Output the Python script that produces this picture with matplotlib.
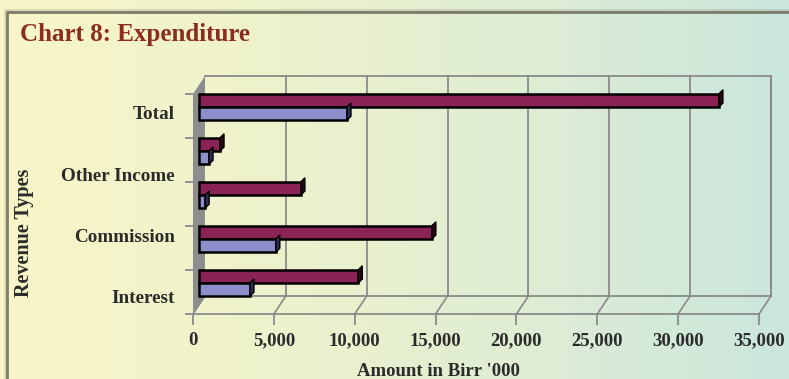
import numpy as np
import matplotlib
matplotlib.use("Agg")
import matplotlib.pyplot as plt
from matplotlib.patches import Polygon
from matplotlib.transforms import ScaledTranslation
from matplotlib.colors import LinearSegmentedColormap

# ---- data -------------------------------------------------------------
type_labels = ["Interest", "Commission", "Other Income", "Total"]
series_a = [9850, 14400, 6300, 1300, 32150]   # maroon bars, bottom to top
series_b = [3150, 4750, 380, 620, 9150]       # lavender bars, bottom to top
x_ticks = [0, 5000, 10000, 15000, 20000, 25000, 30000, 35000]

title = "Chart 8: Expenditure"
x_title = "Amount in Birr '000"
y_title = "Revenue Types"

# ---- styling ----------------------------------------------------------
W, H, DPI = 789, 379, 100
SERIF = ["Liberation Serif", "DejaVu Serif"]
col_a, cap_a = "#8c2356", "#2a0614"
col_b, cap_b = "#8e8dcc", "#2c2c55"
grid_col = "#8a8a8a"
text_col = "#2b2b2b"

fig = plt.figure(figsize=(W / DPI, H / DPI), dpi=DPI)

# background gradient
bg = fig.add_axes([0, 0, 1, 1], zorder=-10)
cmap = LinearSegmentedColormap.from_list(
    "bg", ["#f8f6c7", "#eef2cc", "#dfedd4", "#cae6dd"])
bg.imshow(np.linspace(0, 1, 256)[None, :], aspect="auto", cmap=cmap,
          extent=[0, 1, 0, 1])
bg.set_xlim(0, 1)
bg.set_ylim(0, 1)
bg.axis("off")

# frame with a soft shadow
def px(x, y):
    return x / W, 1 - y / H

for off, a in [(3, 0.10), (2, 0.18), (1, 0.3)]:
    bg.plot(*zip(px(7 - off, H), px(7 - off, 12 - off), px(W, 12 - off)),
            color="#6d6d5a", lw=1, alpha=a, solid_capstyle="butt")
bg.plot(*zip(px(7, H), px(7, 12), px(W, 12)), color="#7c7c6c", lw=2)

fig.text(20 / W, 1 - 34 / H, title, fontsize=18, fontweight="bold",
         color="#8b2c1e", family=SERIF, va="center", ha="left")

# plot area: front plane of the pseudo-3D chart
left_px, right_px, top_px, bot_px = 193, 759, 94, 314
ax = fig.add_axes([left_px / W, 1 - bot_px / H,
                   (right_px - left_px) / W, (bot_px - top_px) / H])
ax.set_facecolor("none")
n_bands = len(series_a)
xmax = x_ticks[-1]
ax.set_xlim(0, xmax)
ax.set_ylim(0, n_bands)
for s in ax.spines.values():
    s.set_visible(False)

depth_x, depth_y = 12, 18  # px offset of the back wall
back = ax.transData + ScaledTranslation(depth_x / DPI, depth_y / DPI,
                                        fig.dpi_scale_trans)
mid = ax.transData + ScaledTranslation(depth_x / 2 / DPI, depth_y / 2 / DPI,
                                       fig.dpi_scale_trans)
ux = xmax / (right_px - left_px)      # data units per px (x)
uy = n_bands / (bot_px - top_px)      # data units per px (y)

# back wall grid lines and outline
for v in x_ticks[1:]:
    ax.plot([v, v], [0, n_bands], color=grid_col, lw=1.3,
            transform=back, clip_on=False, zorder=1)
ax.plot([0, xmax, xmax], [n_bands, n_bands, 0], color=grid_col, lw=1.3,
        transform=back, clip_on=False, zorder=1)
ax.plot([0, xmax], [0, 0], color=grid_col, lw=1.3,
        transform=back, clip_on=False, zorder=1)

# floor: front edge and depth lines at each tick
ax.plot([0, xmax], [0, 0], color=grid_col, lw=1.3, clip_on=False, zorder=1)
for v in x_ticks:
    ax.plot([v, v + depth_x * ux], [0, depth_y * uy], color=grid_col,
            lw=1.2, clip_on=False, zorder=1)

# left side wall
wall = Polygon([(0, 0), (depth_x * ux, depth_y * uy),
                (depth_x * ux, n_bands + depth_y * uy), (0, n_bands)],
               closed=True, facecolor="#8d8d8d", edgecolor="none",
               clip_on=False, zorder=1)
ax.add_patch(wall)

# bars at mid depth with dark end caps
bar_h = 0.30
centers = np.arange(n_bands) + 0.5
cap_dx, cap_dy = 4 * ux, 4 * uy
for vals, y0s, col, cap in [(series_a, centers, col_a, cap_a),
                            (series_b, centers - bar_h, col_b, cap_b)]:
    ax.barh(y0s, vals, height=bar_h, align="edge", color=col,
            edgecolor="black", linewidth=1.8, transform=mid,
            clip_on=False, zorder=3)
    for v, y0 in zip(vals, y0s):
        ax.add_patch(Polygon([(v, y0), (v, y0 + bar_h),
                              (v + cap_dx, y0 + bar_h + cap_dy),
                              (v + cap_dx, y0 + cap_dy)],
                             closed=True, facecolor=cap, edgecolor="black",
                             linewidth=1.0, transform=mid, clip_on=False,
                             zorder=4))

# axes ticks and labels
ax.set_xticks(x_ticks)
ax.set_xticklabels([f"{v:,}" for v in x_ticks])
ax.tick_params(axis="x", direction="out", length=8, width=1.3,
               color=grid_col, pad=5, labelsize=13.5, labelcolor=text_col)
for t in ax.get_xticklabels():
    t.set_family(SERIF)
    t.set_fontweight("bold")

ax.set_yticks(np.arange(n_bands + 1))
ax.set_yticklabels([])
ax.tick_params(axis="y", which="major", direction="out", length=6,
               width=1.3, color=grid_col)
ax.set_yticks(np.linspace(0.39, 4.57, len(type_labels)), minor=True)
ax.set_yticklabels(type_labels, minor=True)
ax.tick_params(axis="y", which="minor", length=0, pad=13, labelsize=13.8,
               labelcolor=text_col)
for t in ax.get_yticklabels(minor=True):
    t.set_family(SERIF)
    t.set_fontweight("bold")

fig.text(438 / W, 1 - 371 / H, x_title, fontsize=13.5, fontweight="bold",
         color=text_col, family=SERIF, ha="center", va="center")
fig.text(24 / W, 1 - 233 / H, y_title, fontsize=14.5, fontweight="bold",
         color=text_col, family=SERIF, ha="center", va="center", rotation=90)

fig.savefig("out.png", dpi=DPI)
